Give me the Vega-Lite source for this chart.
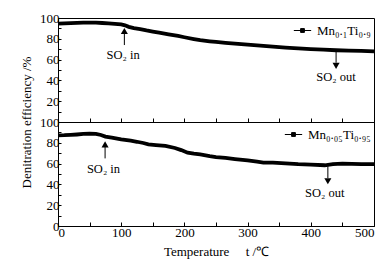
{
  "$schema": "https://vega.github.io/schema/vega-lite/v6.json",
  "background": "white",
  "padding": {"left": 19, "top": 11, "right": 6, "bottom": 5},
  "spacing": 0,
  "bounds": "flush",
  "config": {
    "font": "Liberation Serif",
    "view": {"stroke": "black", "strokeWidth": 1},
    "axis": {"domainColor": "black", "tickColor": "black", "labelColor": "black", "titleColor": "black", "labelFont": "Liberation Serif", "titleFont": "Liberation Serif", "labelFontSize": 13, "titleFontSize": 13, "titleFontWeight": "normal", "grid": false, "labelOverlap": false, "tickCount": 100},
    "legend": {"orient": "top-right", "title": null, "labelFont": "Liberation Serif", "labelFontSize": 13, "labelColor": "black", "symbolType": "M-1,0H1M-0.22,-0.22H0.22V0.22H-0.22Z", "symbolSize": 300, "symbolStrokeWidth": 1, "symbolFillColor": "black", "symbolStrokeColor": "black", "labelOffset": 5, "offset": 2, "padding": 1}
  },
  "datasets": {
    "top": [
      {"t": 0, "v": 94.5}, {"t": 10, "v": 94.8}, {"t": 20, "v": 95}, {"t": 30, "v": 95.3}, {"t": 40, "v": 95.6}, {"t": 50, "v": 95.6}, {"t": 60, "v": 95.5}, {"t": 70, "v": 95.2}, {"t": 80, "v": 94.8}, {"t": 90, "v": 94.3}, {"t": 100, "v": 93.8}, {"t": 106, "v": 93}, {"t": 112, "v": 91.5}, {"t": 120, "v": 90.2}, {"t": 130, "v": 89.2}, {"t": 140, "v": 88}, {"t": 150, "v": 87}, {"t": 160, "v": 86}, {"t": 175, "v": 84.3}, {"t": 190, "v": 82.7}, {"t": 200, "v": 81.5}, {"t": 215, "v": 79.8}, {"t": 225, "v": 78.7}, {"t": 240, "v": 77.6}, {"t": 250, "v": 77}, {"t": 265, "v": 76.1}, {"t": 280, "v": 75.3}, {"t": 300, "v": 74.3}, {"t": 320, "v": 73.4}, {"t": 340, "v": 72.4}, {"t": 360, "v": 71.6}, {"t": 380, "v": 70.8}, {"t": 400, "v": 70.1}, {"t": 420, "v": 69.5}, {"t": 440, "v": 69}, {"t": 460, "v": 68.6}, {"t": 480, "v": 68.3}, {"t": 500, "v": 68}
    ],
    "bottom": [
      {"t": 0, "v": 87.2}, {"t": 10, "v": 87.3}, {"t": 20, "v": 87.6}, {"t": 30, "v": 88}, {"t": 40, "v": 88.5}, {"t": 50, "v": 88.7}, {"t": 60, "v": 88.5}, {"t": 68, "v": 87.5}, {"t": 75, "v": 86}, {"t": 85, "v": 85}, {"t": 100, "v": 83.3}, {"t": 115, "v": 82}, {"t": 125, "v": 81}, {"t": 135, "v": 79.8}, {"t": 143, "v": 78.5}, {"t": 155, "v": 77.8}, {"t": 170, "v": 77}, {"t": 185, "v": 75}, {"t": 195, "v": 73}, {"t": 205, "v": 70.5}, {"t": 215, "v": 69.5}, {"t": 225, "v": 68.8}, {"t": 240, "v": 67.2}, {"t": 250, "v": 66.3}, {"t": 265, "v": 65.4}, {"t": 280, "v": 64.3}, {"t": 300, "v": 63}, {"t": 315, "v": 61.8}, {"t": 325, "v": 61}, {"t": 340, "v": 61}, {"t": 360, "v": 60.3}, {"t": 380, "v": 59.5}, {"t": 400, "v": 59}, {"t": 422, "v": 58.4}, {"t": 435, "v": 59.5}, {"t": 450, "v": 60}, {"t": 465, "v": 59.8}, {"t": 480, "v": 59.5}, {"t": 500, "v": 59.5}
    ],
    "annTop": [
      {"t": 105, "r1": 74, "r2": 85, "tip": 87.5, "shape": "triangle-up", "label": "SO₂ in", "lt": 103, "lv": 64},
      {"t": 440, "r1": 68, "r2": 57, "tip": 54, "shape": "triangle-down", "label": "SO₂ out", "lt": 440, "lv": 43}
    ],
    "annBottom": [
      {"t": 74.5, "r1": 65, "r2": 76, "tip": 78.5, "shape": "triangle-up", "label": "SO₂ in", "lt": 72, "lv": 55},
      {"t": 427, "r1": 57.4, "r2": 46, "tip": 43, "shape": "triangle-down", "label": "SO₂ out", "lt": 422, "lv": 31.7}
    ]
  },
  "resolve": {"scale": {"color": "independent"}, "legend": {"color": "independent"}},
  "vconcat": [
    {
      "width": 316,
      "height": 104,
      "view": {"stroke": "black", "strokeWidth": 1},
      "layer": [
        {
          "data": {"name": "top"},
          "transform": [{"calculate": "'Mn₀.₁Ti₀.₉'", "as": "s"}],
          "mark": {"type": "line", "strokeWidth": 3.8, "interpolate": "linear"},
          "encoding": {
            "x": {"field": "t", "type": "quantitative", "scale": {"domain": [0, 500], "nice": false}, "axis": {"labels": false, "title": null, "tickCount": 100, "tickSize": -4, "values": [0, 50, 100, 150, 200, 250, 300, 350, 400, 450, 500], "encode": {"ticks": {"update": {"y2": {"signal": "datum.value % 100 === 0 ? -4 : -2"}}}}}},
            "y": {"field": "v", "type": "quantitative", "scale": {"domain": [0, 100], "nice": false}, "axis": {"title": null, "tickCount": 100, "tickSize": -3, "labelOverlap": false, "values": [0, 10, 20, 30, 40, 50, 60, 70, 80, 90, 100], "labelExpr": "datum.value % 20 !== 0 || datum.value === 0 ? '' : datum.label", "encode": {"labels": {"update": {"fontSize": {"signal": "datum.value % 20 !== 0 || datum.value === 0 ? 0 : 13"}}}, "ticks": {"update": {"x2": {"signal": "datum.value % 20 === 0 ? 3 : 1.5"}}}}}},
            "color": {"field": "s", "type": "nominal", "scale": {"range": ["black"]}}
          }
        },
        {
          "data": {"name": "annTop"},
          "mark": {"type": "rule", "color": "black", "strokeWidth": 1},
          "encoding": {"x": {"field": "t", "type": "quantitative"}, "y": {"field": "r1", "type": "quantitative"}, "y2": {"field": "r2"}}
        },
        {
          "data": {"name": "annTop"},
          "mark": {"type": "point", "filled": true, "color": "black", "size": 50, "opacity": 1},
          "encoding": {"x": {"field": "t", "type": "quantitative"}, "y": {"field": "tip", "type": "quantitative"}, "shape": {"field": "shape", "type": "nominal", "scale": null}}
        },
        {
          "data": {"name": "annTop"},
          "mark": {"type": "text", "fontSize": 12.5, "font": "Liberation Serif", "color": "black", "align": "center", "baseline": "middle"},
          "encoding": {"x": {"field": "lt", "type": "quantitative"}, "y": {"field": "lv", "type": "quantitative"}, "text": {"field": "label"}}
        }
      ]
    },
    {
      "width": 316,
      "height": 104,
      "view": {"stroke": "black", "strokeWidth": 1},
      "layer": [
        {
          "data": {"name": "bottom"},
          "transform": [{"calculate": "'Mn₀.₀₅Ti₀.₉₅'", "as": "s"}],
          "mark": {"type": "line", "strokeWidth": 3.8, "interpolate": "linear"},
          "encoding": {
            "x": {"field": "t", "type": "quantitative", "scale": {"domain": [0, 500], "nice": false}, "axis": {"title": "Temperature\u00a0\u00a0\u00a0\u00a0\u00a0t /℃", "titlePadding": 6, "tickCount": 100, "tickSize": -4, "labelOverlap": false, "values": [0, 50, 100, 150, 200, 250, 300, 350, 400, 450, 500], "labelExpr": "datum.value % 100 === 0 ? datum.label : ''", "labelPadding": 4, "encode": {"labels": {"update": {"fontSize": {"signal": "datum.value % 100 === 0 ? 13 : 0"}}}, "ticks": {"update": {"y2": {"signal": "datum.value % 100 === 0 ? -4 : -2"}}}}}},
            "y": {"field": "v", "type": "quantitative", "scale": {"domain": [0, 100], "nice": false}, "axis": {"title": "Denitration efficiency /%", "titleY": 0, "titlePadding": 6.5, "tickCount": 100, "tickSize": -3, "labelOverlap": false, "values": [0, 10, 20, 30, 40, 50, 60, 70, 80, 90, 100], "labelExpr": "datum.value % 20 !== 0 ? '' : datum.label", "encode": {"labels": {"update": {"fontSize": {"signal": "datum.value % 20 !== 0 ? 0 : 13"}}}, "ticks": {"update": {"x2": {"signal": "datum.value % 20 === 0 ? 3 : 1.5"}}}}}},
            "color": {"field": "s", "type": "nominal", "scale": {"range": ["black"]}}
          }
        },
        {
          "data": {"name": "annBottom"},
          "mark": {"type": "rule", "color": "black", "strokeWidth": 1},
          "encoding": {"x": {"field": "t", "type": "quantitative"}, "y": {"field": "r1", "type": "quantitative"}, "y2": {"field": "r2"}}
        },
        {
          "data": {"name": "annBottom"},
          "mark": {"type": "point", "filled": true, "color": "black", "size": 50, "opacity": 1},
          "encoding": {"x": {"field": "t", "type": "quantitative"}, "y": {"field": "tip", "type": "quantitative"}, "shape": {"field": "shape", "type": "nominal", "scale": null}}
        },
        {
          "data": {"name": "annBottom"},
          "mark": {"type": "text", "fontSize": 12.5, "font": "Liberation Serif", "color": "black", "align": "center", "baseline": "middle"},
          "encoding": {"x": {"field": "lt", "type": "quantitative"}, "y": {"field": "lv", "type": "quantitative"}, "text": {"field": "label"}}
        }
      ]
    }
  ]
}
